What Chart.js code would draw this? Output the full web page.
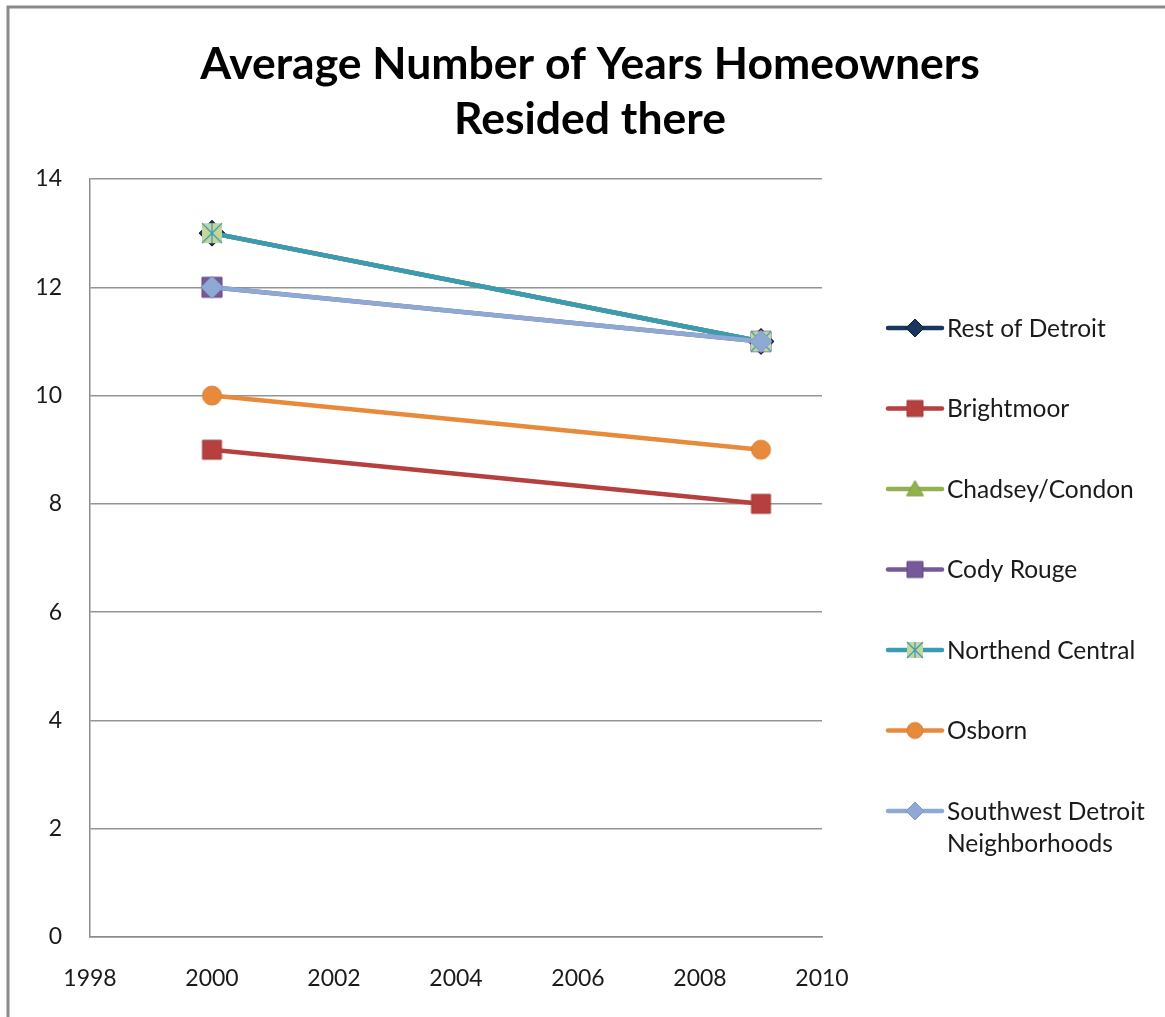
<!DOCTYPE html>
<html>
<head>
<meta charset="utf-8">
<title>Average Number of Years Homeowners Resided there</title>
<script src="https://cdn.jsdelivr.net/npm/chart.js@4/dist/chart.umd.min.js"></script>
<style>
  html, body { margin: 0; padding: 0; background: #ffffff; }
  #wrap { width: 1165px; height: 1017px; position: relative; }
</style>
</head>
<body>
<div id="wrap"><canvas id="chart" width="1165" height="1017"></canvas></div>
<script>
// Survey years on the horizontal axis
const years = [2000, 2009];

// Average years of residence per neighbourhood
const restOfDetroit   = [13, 11];
const brightmoor      = [9, 8];
const chadseyCondon   = [13, 11];
const codyRouge       = [12, 11];
const northendCentral = [13, 11];
const osborn          = [10, 9];
const southwestDetroit = [12, 11];

const seriesLabels = [
  'Rest of Detroit', 'Brightmoor', 'Chadsey/Condon', 'Cody Rouge',
  'Northend Central', 'Osborn', ['Southwest Detroit', 'Neighborhoods']
];
const seriesValues = [
  restOfDetroit, brightmoor, chadseyCondon, codyRouge,
  northendCentral, osborn, southwestDetroit
];

const titleLines = ['Average Number of Years Homeowners', 'Resided there'];

const FONT = 'Lato, "Open Sans", "DejaVu Sans", sans-serif';

// ---- marker images -------------------------------------------------------
function makeMarker(kind, size, fill, stroke) {
  const pad = 2;
  const c = document.createElement('canvas');
  c.width = c.height = size + pad * 2;
  const g = c.getContext('2d');
  const m = c.width / 2, h = size / 2;
  g.fillStyle = fill;
  g.strokeStyle = stroke;
  g.lineWidth = 1;
  g.beginPath();
  if (kind === 'diamond') {
    g.moveTo(m, m - h); g.lineTo(m + h, m); g.lineTo(m, m + h); g.lineTo(m - h, m); g.closePath();
    g.fill(); g.stroke();
  } else if (kind === 'square') {
    g.rect(m - h, m - h, size, size);
    g.fill(); g.stroke();
  } else if (kind === 'triangle') {
    g.moveTo(m, m - h); g.lineTo(m + h, m + h * 0.8); g.lineTo(m - h, m + h * 0.8); g.closePath();
    g.fill(); g.stroke();
  } else if (kind === 'circle') {
    g.arc(m, m, h, 0, Math.PI * 2);
    g.fill(); g.stroke();
  } else if (kind === 'star') {
    g.rect(m - h, m - h, size, size);
    g.fill();
    g.beginPath();
    g.lineWidth = 1.2;
    g.moveTo(m - h, m - h); g.lineTo(m + h, m + h);
    g.moveTo(m + h, m - h); g.lineTo(m - h, m + h);
    g.moveTo(m, m - h); g.lineTo(m, m + h);
    g.stroke();
  }
  return c;
}

const lineColors = ['#1B365C', '#B5403F', '#91B24E', '#76599A', '#3A9BB2', '#E78A3C', '#8EA9D3'];
const plotMarkers = [
  makeMarker('diamond', 26, '#1B365C', '#0E1E35'),
  makeMarker('square', 19, '#B5403F', '#A83A39'),
  makeMarker('triangle', 18, '#91B24E', '#80A040'),
  makeMarker('square', 20, '#76599A', '#654888'),
  makeMarker('star', 20, '#C3D69B', '#3A9BB2'),
  makeMarker('circle', 19, '#E78A3C', '#D87C30'),
  makeMarker('diamond', 22, '#8EA9D3', '#7F9AC4')
];
const legendMarkers = [
  makeMarker('diamond', 18, '#1B365C', '#0E1E35'),
  makeMarker('square', 16, '#B5403F', '#A83A39'),
  makeMarker('triangle', 17, '#91B24E', '#80A040'),
  makeMarker('square', 16, '#76599A', '#654888'),
  makeMarker('star', 16, '#C3D69B', '#3A9BB2'),
  makeMarker('circle', 16, '#E78A3C', '#D87C30'),
  makeMarker('diamond', 18, '#8EA9D3', '#7F9AC4')
];

const datasets = seriesValues.map((vals, i) => ({
  label: seriesLabels[i],
  data: vals.map((v, k) => ({ x: years[k], y: v })),
  borderColor: lineColors[i],
  backgroundColor: lineColors[i],
  borderWidth: 4.5,
  pointStyle: plotMarkers[i],
  pointRadius: 10,
  tension: 0,
  order: seriesValues.length - 1 - i
}));

// ---- page frame and centred two-line title --------------------------------
const framePlugin = {
  id: 'frame',
  beforeDraw(chart) {
    const ctx = chart.ctx;
    ctx.save();
    ctx.fillStyle = '#ffffff';
    ctx.fillRect(0, 0, chart.width, chart.height);
    ctx.strokeStyle = '#8a8a8a';
    ctx.lineWidth = 3;
    ctx.beginPath();
    ctx.moveTo(8, chart.height);
    ctx.lineTo(8, 7);
    ctx.lineTo(chart.width, 7);
    ctx.stroke();

    ctx.fillStyle = '#000000';
    ctx.font = 'bold 44.5px ' + FONT;
    ctx.textAlign = 'center';
    ctx.textBaseline = 'alphabetic';
    titleLines.forEach((t, k) => ctx.fillText(t, 590, 79 + k * 55));
    ctx.restore();
  }
};

// ---- legend: line sample + marker + label ---------------------------------
const legendPlugin = {
  id: 'sideLegend',
  afterDraw(chart) {
    const ctx = chart.ctx;
    const x0 = 888, x1 = 942, xt = 947, yStart = 328, step = 80.5, lineGap = 32;
    ctx.save();
    ctx.font = '24.5px ' + FONT;
    ctx.textBaseline = 'middle';
    ctx.fillStyle = '#1a1a1a';
    chart.data.datasets.forEach((ds, i) => {
      const y = yStart + i * step;
      ctx.strokeStyle = ds.borderColor;
      ctx.lineWidth = 4.5;
      ctx.lineCap = 'round';
      ctx.beginPath();
      ctx.moveTo(x0, y);
      ctx.lineTo(x1, y);
      ctx.stroke();
      const img = legendMarkers[i];
      ctx.drawImage(img, (x0 + x1) / 2 - img.width / 2, y - img.height / 2);
      const lines = Array.isArray(ds.label) ? ds.label : [ds.label];
      lines.forEach((t, k) => ctx.fillText(t, xt, y + 1 + k * lineGap));
    });
    ctx.restore();
  }
};

new Chart(document.getElementById('chart'), {
  type: 'line',
  data: { datasets },
  plugins: [framePlugin, legendPlugin],
  options: {
    responsive: false,
    animation: false,
    events: [],
    layout: { padding: { top: 179, left: 0, right: 343, bottom: 0 } },
    plugins: {
      legend: { display: false },
      tooltip: { enabled: false },
      title: { display: false }
    },
    scales: {
      x: {
        type: 'linear',
        min: 1998,
        max: 2010,
        afterFit(s) { s.height = 80; },
        ticks: {
          stepSize: 2,
          padding: 28,
          color: '#1a1a1a',
          font: { family: FONT, size: 23 },
          callback: v => String(v)
        },
        grid: { display: false, drawTicks: false },
        border: { display: true, color: '#8c8c8c', width: 1.5 }
      },
      y: {
        min: 0,
        max: 14,
        afterFit(s) { s.width = 90; },
        ticks: {
          stepSize: 2,
          padding: 28,
          color: '#1a1a1a',
          font: { family: FONT, size: 23 }
        },
        grid: { color: '#949494', lineWidth: 1.5, drawTicks: false },
        border: { display: true, color: '#8c8c8c', width: 1.5 }
      }
    }
  }
});
</script>
</body>
</html>
